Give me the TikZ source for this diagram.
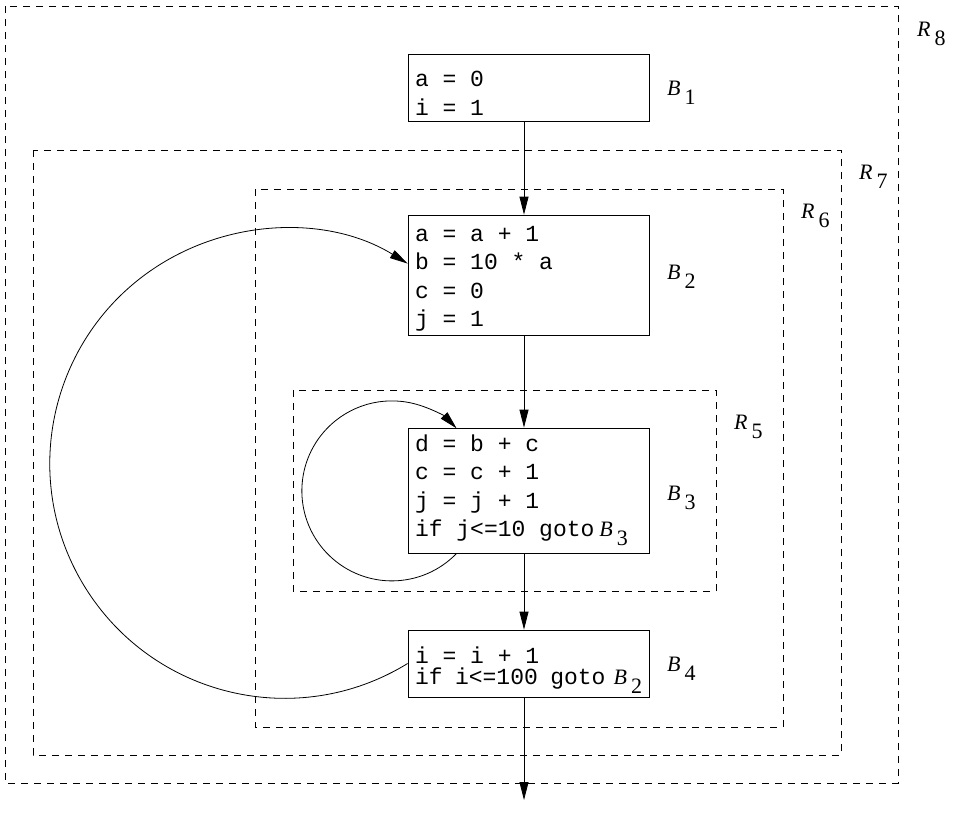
\documentclass[tikz,border=0pt]{standalone}
\usepackage{fontspec}
\setmainfont{Liberation Serif}
\newfontfamily\codefont{Liberation Mono}
\usetikzlibrary{arrows.meta,positioning}
\newcommand{\sublabel}[2]{{\fontsize{22}{24}\selectfont\rmfamily\textit{#1}\kern4pt\raisebox{-9pt}{#2}}}

\begin{document}
\begin{tikzpicture}[
    x=1pt,y=-1pt,
    block/.style={draw,line width=0.8pt,minimum width=241pt,text width=227pt,inner xsep=7pt,align=flush left,font=\codefont\fontsize{23}{28.5}\selectfont},
    region/.style={draw,line width=0.8pt,dash pattern=on 7pt off 6pt},
    tag/.style={anchor=base west,inner sep=0pt},
    arr/.style={-{Triangle[length=18pt,width=9pt]},line width=0.8pt}
]
\useasboundingbox (0,0) rectangle (953,814);

% nested regions, outermost first
\draw[region] (5,6) rectangle (898,783);
\draw[region] (33,150) rectangle (841,755);
\draw[region] (255,189) rectangle (783,727);
\draw[region] (293,390) rectangle (716,591);
\node[tag] (R8) at (917,36) {\sublabel{R}{8}};
\node[tag] (R7) at (859,179) {\sublabel{R}{7}};
\node[tag] (R6) at (801,218) {\sublabel{R}{6}};
\node[tag] (R5) at (734,429) {\sublabel{R}{5}};

% basic blocks
\node[block,minimum height=67pt] (B1) at (528.5,87.5) {\rule{0pt}{27pt}a = 0\\i = 1};
\node[block,minimum height=116pt] (B2) at (528.5,275) {\rule{0pt}{23pt}a = a + 1\\b = 10 * a\\c = 0\\j = 1};
\node[block,minimum height=125pt] (B3) at (528.5,490.5) {d = b + c\\c = c + 1\\j = j + 1\\if j<=10 goto\kern5pt\sublabel{B}{3}};
\node[block,minimum height=67pt,font=\codefont\fontsize{23}{21}\selectfont] (B4) at (528.5,663.5) {\rule{0pt}{29pt}i = i + 1\\if i<=100 goto\kern8pt\sublabel{B}{2}};
\node[tag] (L1) at (667,95) {\sublabel{B}{1}};
\node[tag] (L2) at (667,279) {\sublabel{B}{2}};
\node[tag] (L3) at (667,500) {\sublabel{B}{3}};
\node[tag] (L4) at (667,671) {\sublabel{B}{4}};

% straight flow down the middle
\coordinate (exit) at (524,800);
\draw[arr] ([xshift=-4.5pt]B1.south) -- ([xshift=-4.5pt]B2.north);
\draw[arr] ([xshift=-4.5pt]B2.south) -- ([xshift=-4.5pt]B3.north);
\draw[arr] ([xshift=-4.5pt]B3.south) -- ([xshift=-4.5pt]B4.north);
\draw[arr] ([xshift=-4.5pt]B4.south) -- (exit);

% back edges: B3 to itself, B4 round to B2
\draw[arr] ([xshift=49pt]B3.south west) arc[start angle=44,end angle=316,radius=90];
\draw[arr] (B4.west) arc[start angle=58.4,end angle=301.6,radius=234.8];
\end{tikzpicture}
\end{document}
